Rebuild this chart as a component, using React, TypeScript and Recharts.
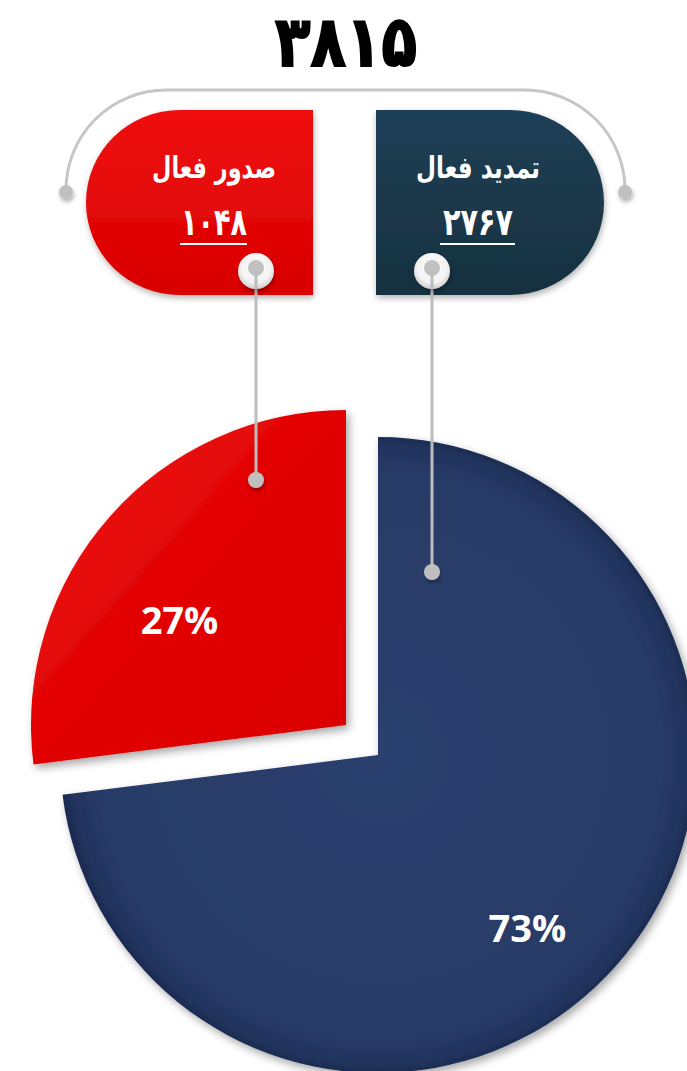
import { PieChart, Pie, Cell } from "recharts";

const CATEGORIES = ["تمدید فعال", "صدور فعال"];
const COUNTS = [2767, 1048];
const SHARES = [73, 27];
const SLICE_COLORS = ["url(#navySlice)", "url(#redSlice)"];

const W = 687;
const H = 1071;

const FA_DIGITS = "۰۱۲۳۴۵۶۷۸۹";
const toFa = (n: number) => String(n).replace(/\d/g, (d) => FA_DIGITS[Number(d)]);

const data = CATEGORIES.map((name, i) => ({ name, value: SHARES[i] }));
const total = COUNTS.reduce((a, b) => a + b, 0);

const RAD = Math.PI / 180;
const LABEL_SHIFT = { dx: -20, dy: 23 };

// each slice is pulled out on its own, so two pies share the data
const renderLabel = (visibleIndex: number, factor: number) => (props: any) => {
  const { cx, cy, midAngle, outerRadius, value, index } = props;
  if (index !== visibleIndex) return null;
  const r = outerRadius * factor;
  const x = cx + r * Math.cos(-midAngle * RAD) + LABEL_SHIFT.dx;
  const y = cy + r * Math.sin(-midAngle * RAD) + LABEL_SHIFT.dy;
  return (
    <text
      x={x}
      y={y}
      fill="#fff"
      textAnchor="middle"
      dominantBaseline="central"
      fontFamily="'Open Sans', 'Noto Sans', sans-serif"
      fontWeight={700}
      fontSize={38}
    >
      {`${value}%`}
    </text>
  );
};

function Pin({ x, y, to }: { x: number; y: number; to: number }) {
  return (
    <g>
      <line x1={x} y1={y} x2={x} y2={to} stroke="#bdbdbd" strokeWidth={3} />
      <circle cx={x} cy={to} r={8} fill="#bfbfbf" filter="url(#softShadow)" />
      <circle cx={x} cy={y} r={18} fill="url(#pinRing)" filter="url(#softShadow)" />
      <circle cx={x} cy={y - 3} r={8} fill="#c2c2c2" />
      <line x1={x} y1={y} x2={x} y2={y + 18} stroke="#bdbdbd" strokeWidth={3} />
    </g>
  );
}

function Overlay() {
  const faFont = "'DejaVu Sans', sans-serif";
  return (
    <svg width={W} height={H} style={{ position: "absolute", left: 0, top: 0, pointerEvents: "none" }}>
      <defs>
        <linearGradient id="redBox" x1="0" y1="0" x2="0" y2="1">
          <stop offset="0%" stopColor="#f01010" />
          <stop offset="100%" stopColor="#d80000" />
        </linearGradient>
        <linearGradient id="navyBox" x1="0" y1="0" x2="0" y2="1">
          <stop offset="0%" stopColor="#1f3f56" />
          <stop offset="100%" stopColor="#17313f" />
        </linearGradient>
        <radialGradient id="pinRing" cx="0.5" cy="0.4" r="0.6">
          <stop offset="0%" stopColor="#ffffff" />
          <stop offset="70%" stopColor="#f2f2f2" />
          <stop offset="100%" stopColor="#cfcfcf" />
        </radialGradient>
        <filter id="softShadow" x="-50%" y="-50%" width="200%" height="200%">
          <feDropShadow dx="1" dy="3" stdDeviation="2" floodColor="#000" floodOpacity="0.3" />
        </filter>
        <filter id="boxShadow" x="-10%" y="-10%" width="120%" height="130%">
          <feDropShadow dx="1" dy="3" stdDeviation="3" floodColor="#000" floodOpacity="0.3" />
        </filter>
      </defs>

      <text
        x={346}
        y={42}
        textAnchor="middle"
        dominantBaseline="central"
        fontFamily={faFont}
        fontWeight={700}
        fontSize={70}
        textLength={142}
        lengthAdjust="spacingAndGlyphs"
        stroke="#000"
        strokeWidth={2}
        fill="#000"
      >
        {toFa(total)}
      </text>

      <path
        d="M 66 190 A 100 100 0 0 1 166 90 L 525 90 A 100 100 0 0 1 625 190"
        fill="none"
        stroke="#c6c6c6"
        strokeWidth={3}
      />
      <circle cx={66} cy={192} r={7} fill="#c0c0c0" filter="url(#softShadow)" />
      <circle cx={625} cy={192} r={7} fill="#c0c0c0" filter="url(#softShadow)" />

      <path d="M 313 110 L 180 110 A 94 92.5 0 0 0 180 295 L 313 295 Z" fill="url(#redBox)" filter="url(#boxShadow)" />
      <path d="M 376 110 L 510 110 A 94 92.5 0 0 1 510 295 L 376 295 Z" fill="url(#navyBox)" filter="url(#boxShadow)" />

      <text x={214} y={167} textAnchor="middle" dominantBaseline="central" direction="rtl" fontFamily={faFont} fontWeight={700} fontSize={30} textLength={124} lengthAdjust="spacingAndGlyphs" fill="#fff">
        {CATEGORIES[1]}
      </text>
      <text x={214} y={222} textAnchor="middle" dominantBaseline="central" fontFamily={faFont} fontWeight={700} fontSize={38} textLength={66} lengthAdjust="spacingAndGlyphs" fill="#fff">
        {toFa(COUNTS[1])}
      </text>
      <line x1={180} y1={244} x2={247} y2={244} stroke="#fff" strokeWidth={2} />

      <text x={478} y={167} textAnchor="middle" dominantBaseline="central" direction="rtl" fontFamily={faFont} fontWeight={700} fontSize={30} textLength={124} lengthAdjust="spacingAndGlyphs" fill="#fff">
        {CATEGORIES[0]}
      </text>
      <text x={478} y={222} textAnchor="middle" dominantBaseline="central" fontFamily={faFont} fontWeight={700} fontSize={38} textLength={70} lengthAdjust="spacingAndGlyphs" fill="#fff">
        {toFa(COUNTS[0])}
      </text>
      <line x1={440} y1={244} x2={515} y2={244} stroke="#fff" strokeWidth={2} />

      <Pin x={256} y={271} to={480} />
      <Pin x={432} y={271} to={572} />
    </svg>
  );
}

export default function App() {
  return (
    <div style={{ position: "absolute", left: 0, top: 0, width: W, height: H, background: "#fff", overflow: "hidden" }}>
      <PieChart width={W} height={H} margin={{ top: 0, right: 0, bottom: 0, left: 0 }}>
        <defs>
          <radialGradient id="navySlice" cx="0.5" cy="0.5" r="0.5">
            <stop offset="0%" stopColor="#2b3f6e" />
            <stop offset="88%" stopColor="#283b67" />
            <stop offset="97%" stopColor="#22345e" />
            <stop offset="100%" stopColor="#1c2c52" />
          </radialGradient>
          <linearGradient id="redSlice" x1="0" y1="0" x2="1" y2="1">
            <stop offset="0%" stopColor="#f41c1c" />
            <stop offset="45%" stopColor="#e20404" />
            <stop offset="100%" stopColor="#da0000" />
          </linearGradient>
          <filter id="sliceShadow" x="-10%" y="-10%" width="125%" height="125%">
            <feDropShadow dx="3" dy="4" stdDeviation="4" floodColor="#000" floodOpacity="0.35" />
          </filter>
        </defs>
        <Pie
          data={data}
          dataKey="value"
          nameKey="name"
          cx={378}
          cy={755}
          outerRadius={318}
          startAngle={90}
          endAngle={-270}
          stroke="none"
          labelLine={false}
          label={renderLabel(0, 0.71)}
          isAnimationActive={false}
        >
          {data.map((d, i) => (
            <Cell
              key={d.name}
              fill={i === 0 ? SLICE_COLORS[i] : "transparent"}
              style={i === 0 ? { filter: "url(#sliceShadow)" } : undefined}
            />
          ))}
        </Pie>
        <Pie
          data={data}
          dataKey="value"
          nameKey="name"
          cx={346}
          cy={725}
          outerRadius={315}
          startAngle={90}
          endAngle={-270}
          stroke="none"
          labelLine={false}
          label={renderLabel(1, 0.62)}
          isAnimationActive={false}
        >
          {data.map((d, i) => (
            <Cell
              key={d.name}
              fill={i === 1 ? SLICE_COLORS[i] : "transparent"}
              style={i === 1 ? { filter: "url(#sliceShadow)" } : undefined}
            />
          ))}
        </Pie>
      </PieChart>
      <Overlay />
    </div>
  );
}
